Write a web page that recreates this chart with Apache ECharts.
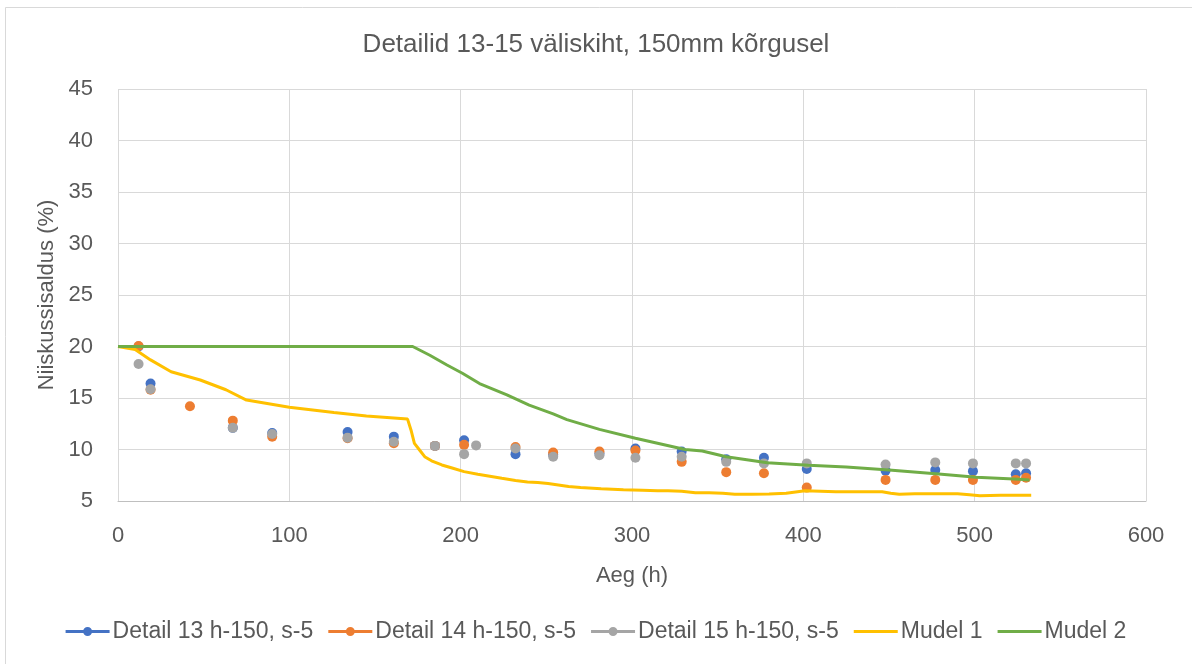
<!DOCTYPE html>
<html>
<head>
<meta charset="utf-8">
<script src="https://cdn.jsdelivr.net/npm/echarts@6/dist/echarts.min.js"></script>
<style>
  html, body { margin: 0; padding: 0; background: #fff; }
  #chart { width: 1192px; height: 664px; }
</style>
</head>
<body>
<div id="chart"></div>
<script>
// Measured moisture content (%) over time (h)
const detail13Time = [12, 19, 67, 90, 134, 161, 185, 202, 232, 254, 281, 302, 329, 355, 377, 402, 448, 477, 499, 524, 530];
const detail13Val  = [20.0, 16.4, 12.1, 11.6, 11.7, 11.25, 10.35, 10.9, 9.55, 9.5, 9.6, 10.1, 9.8, 9.05, 9.2, 8.1, 7.95, 8.0, 7.9, 7.6, 7.7];

const detail14Time = [12, 19, 42, 67, 90, 134, 161, 185, 202, 232, 254, 281, 302, 329, 355, 377, 402, 448, 477, 499, 524, 530];
const detail14Val  = [20.05, 15.8, 14.2, 12.8, 11.25, 11.1, 10.6, 10.35, 10.45, 10.25, 9.7, 9.8, 9.9, 8.8, 7.8, 7.7, 6.3, 7.05, 7.05, 7.05, 7.05, 7.25];

const detail15Time = [12, 19, 67, 90, 134, 161, 185, 202, 209, 232, 254, 281, 302, 329, 355, 377, 402, 448, 477, 499, 524, 530];
const detail15Val  = [18.3, 15.85, 12.1, 11.5, 11.15, 10.75, 10.35, 9.55, 10.4, 10.1, 9.3, 9.45, 9.2, 9.3, 8.8, 8.65, 8.65, 8.55, 8.75, 8.65, 8.65, 8.65];

// Model curves
const mudel1Time = [0, 10, 19, 31, 48, 63, 75, 100, 126, 145, 169, 171, 173, 176, 179, 183, 189, 195, 202, 210, 217, 224, 232, 239, 245, 251, 257, 263, 270, 282, 295, 306, 315, 321, 329, 337, 345, 353, 360, 370, 380, 390, 401, 410, 419, 430, 440, 446, 451, 456, 465, 477, 490, 497, 503, 515, 533];
const mudel1Val  = [20.0, 19.7, 18.7, 17.55, 16.75, 15.8, 14.8, 14.1, 13.6, 13.25, 12.95, 11.9, 10.6, 9.95, 9.3, 8.9, 8.5, 8.2, 7.85, 7.6, 7.4, 7.2, 7.0, 6.85, 6.8, 6.7, 6.55, 6.4, 6.3, 6.2, 6.1, 6.05, 6.0, 6.0, 5.95, 5.8, 5.8, 5.75, 5.65, 5.65, 5.68, 5.75, 6.0, 5.95, 5.9, 5.9, 5.9, 5.9, 5.75, 5.65, 5.7, 5.7, 5.7, 5.6, 5.5, 5.55, 5.55];

const mudel2Time = [0, 172, 182, 192, 201, 211, 227, 240, 254, 262, 281, 302, 331, 341, 355, 379, 403, 425, 450, 479, 501, 526, 532];
const mudel2Val  = [20.0, 20.0, 19.15, 18.2, 17.4, 16.4, 15.3, 14.3, 13.45, 12.9, 11.95, 11.1, 10.0, 9.85, 9.3, 8.72, 8.47, 8.3, 8.0, 7.62, 7.3, 7.1, 7.04];

const xTicks = { min: 0, max: 600, step: 100 };
const yTicks = { min: 5, max: 45, step: 5 };

const seriesNames = ['Detail 13 h-150, s-5', 'Detail 14 h-150, s-5', 'Detail 15 h-150, s-5', 'Mudel 1', 'Mudel 2'];
const seriesColors = ['#4472C4', '#ED7D31', '#A5A5A5', '#FFC000', '#70AD47'];

const pairs = (xs, ys) => xs.map((x, i) => [x, ys[i]]);

const FONT = "'Liberation Sans', 'DejaVu Sans', sans-serif";
const TEXT = '#595959';

// Legend keys: a short line with a dot for the measured series, a plain line for the models
const dotIcon = 'path://M0,3.5 H18 V6.5 H0 Z M26,3.5 H44 V6.5 H26 Z M26.5,5 A4.5,4.5 0 1 1 17.5,5 A4.5,4.5 0 1 1 26.5,5 Z';
const lineIcon = 'path://M0,3.5 H44 V6.5 H0 Z';

const chart = echarts.init(document.getElementById('chart'), null, { renderer: 'canvas' });

function scatterSeries(idx, xs, ys) {
  return {
    name: seriesNames[idx],
    type: 'scatter',
    data: pairs(xs, ys),
    symbol: 'circle',
    symbolSize: 10,
    itemStyle: { color: seriesColors[idx], opacity: 1 },
    z: 3 + idx
  };
}

function lineSeries(idx, xs, ys) {
  return {
    name: seriesNames[idx],
    type: 'line',
    data: pairs(xs, ys),
    showSymbol: false,
    symbol: 'none',
    smooth: false,
    lineStyle: { color: seriesColors[idx], width: 3 },
    itemStyle: { color: seriesColors[idx] },
    z: 10 + idx
  };
}

chart.setOption({
  animation: false,
  backgroundColor: '#ffffff',
  graphic: [{
    type: 'rect',
    shape: { x: 5.5, y: 7.5, width: 1300, height: 800 },
    style: { fill: 'none', stroke: '#d9d9d9', lineWidth: 1 },
    silent: true
  }],
  title: {
    text: 'Detailid 13-15 väliskiht, 150mm kõrgusel',
    left: 'center',
    top: 27,
    textStyle: { fontFamily: FONT, fontSize: 26, fontWeight: 'normal', color: TEXT }
  },
  grid: { left: 118, right: 46, top: 89, bottom: 163, containLabel: false },
  legend: {
    bottom: 16,
    left: 'center',
    itemWidth: 44,
    itemHeight: 10,
    itemGap: 15,
    textStyle: { fontFamily: FONT, fontSize: 23, color: TEXT, padding: [0, 0, 0, -2] },
    data: [
      { name: seriesNames[0], icon: dotIcon },
      { name: seriesNames[1], icon: dotIcon },
      { name: seriesNames[2], icon: dotIcon },
      { name: seriesNames[3], icon: lineIcon },
      { name: seriesNames[4], icon: lineIcon }
    ]
  },
  xAxis: {
    type: 'value',
    min: xTicks.min,
    max: xTicks.max,
    interval: xTicks.step,
    name: 'Aeg (h)',
    nameLocation: 'middle',
    nameGap: 64,
    nameTextStyle: { fontFamily: FONT, fontSize: 22, color: TEXT },
    axisLine: { show: true, lineStyle: { color: '#bfbfbf', width: 1 } },
    axisTick: { show: false },
    axisLabel: { fontFamily: FONT, fontSize: 22, color: TEXT, margin: 24 },
    splitLine: { show: true, lineStyle: { color: '#d9d9d9', width: 1 } }
  },
  yAxis: {
    type: 'value',
    min: yTicks.min,
    max: yTicks.max,
    interval: yTicks.step,
    name: 'Niiskussisaldus (%)',
    nameLocation: 'middle',
    nameGap: 59,
    nameTextStyle: { fontFamily: FONT, fontSize: 22, color: TEXT },
    axisLine: { show: false },
    axisTick: { show: false },
    axisLabel: { fontFamily: FONT, fontSize: 22, color: TEXT, margin: 25 },
    splitLine: { show: true, lineStyle: { color: '#d9d9d9', width: 1 } }
  },
  series: [
    scatterSeries(0, detail13Time, detail13Val),
    scatterSeries(1, detail14Time, detail14Val),
    scatterSeries(2, detail15Time, detail15Val),
    lineSeries(3, mudel1Time, mudel1Val),
    lineSeries(4, mudel2Time, mudel2Val)
  ]
});
</script>
</body>
</html>
